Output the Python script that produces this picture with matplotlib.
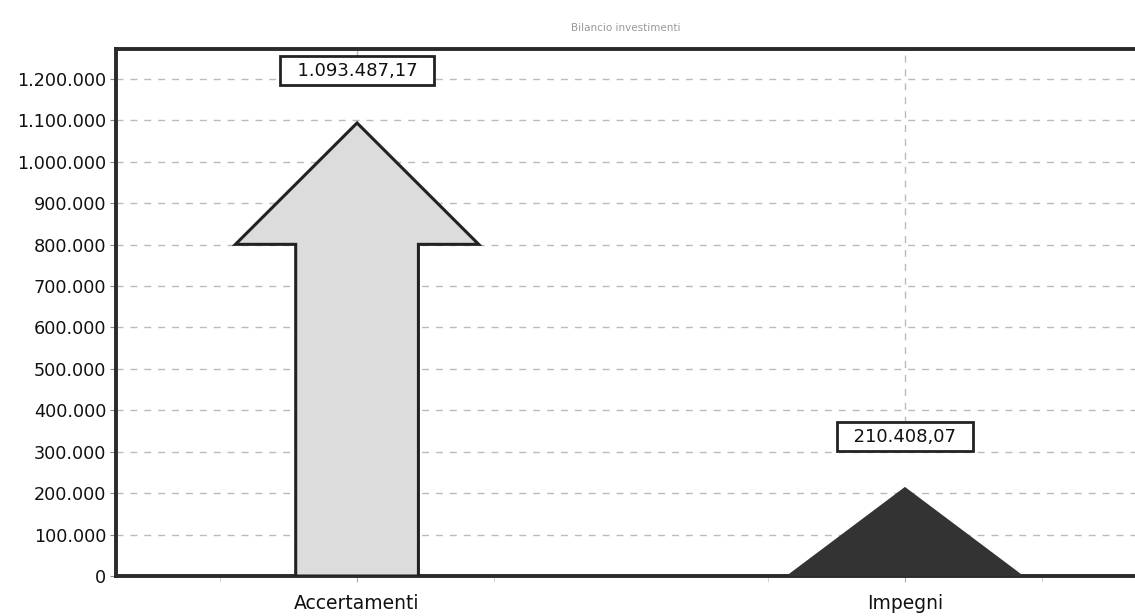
import matplotlib.pyplot as plt
from matplotlib.patches import Polygon
from matplotlib.ticker import FuncFormatter

# data
categories = ['Accertamenti', 'Impegni']
values = [1093487.17, 210408.07]
labels = ['1.093.487,17', '210.408,07']
fills = ['#dcdcdc', '#333333']
edges = ['#222222', '#333333']

y_ticks = list(range(0, 1200001, 100000))

def it_thousands(v, pos):
    return f'{int(v):,}'.replace(',', '.')

fig = plt.figure(figsize=(11.35, 6.16), dpi=100)
ax = fig.add_axes([116 / 1135, 40 / 616, 1030 / 1135, 527 / 616])

y_top = 1272000
ax.set_xlim(-0.44, 1.44)
ax.set_ylim(0, y_top)

# arrow shape settings (in data units)
head_half = 0.222
shaft_half = 0.112
head_len = 293000
label_gap = 126000

for i, (v, fc, ec) in enumerate(zip(values, fills, edges)):
    if v > head_len:
        base = v - head_len
        pts = [(i - shaft_half, 0), (i - shaft_half, base), (i - head_half, base),
               (i, v), (i + head_half, base), (i + shaft_half, base), (i + shaft_half, 0)]
    else:
        pts = [(i - head_half + 0.01, 0), (i, v), (i + head_half - 0.01, 0)]
    ax.add_patch(Polygon(pts, closed=True, facecolor=fc, edgecolor=ec, lw=2.2, zorder=3))

for i, (v, lab) in enumerate(zip(values, labels)):
    # dashed leader from the label up to the top of the plot
    ax.vlines(i, v + label_gap, y_top, colors='#bbbbbb', linestyles=(0, (5, 5)),
              lw=1, zorder=1)
    ax.text(i, v + label_gap, '  ' + lab + '  ', ha='center', va='center',
            fontsize=13, color='#111111', zorder=5,
            bbox=dict(boxstyle='square,pad=0.3', fc='white', ec='#222222', lw=2))

ax.set_yticks(y_ticks)
ax.yaxis.set_major_formatter(FuncFormatter(it_thousands))
ax.set_xticks(range(len(categories)))
ax.set_xticklabels(categories, fontsize=13.5, color='#111111')
ax.set_xticks([-0.25, 0.25, 0.75, 1.25], minor=True)
ax.tick_params(axis='y', labelsize=12.7, labelcolor='#111111', length=4, color='#888888', pad=3)
ax.tick_params(axis='x', which='major', length=4, color='#aaaaaa', pad=9)
ax.tick_params(axis='x', which='minor', length=4, color='#cccccc')

ax.grid(True, axis='y', color='#bbbbbb', linestyle=(0, (5, 5)), linewidth=1)
ax.set_axisbelow(True)

for side in ['left', 'top', 'bottom']:
    ax.spines[side].set_color('#2a2a2a')
    ax.spines[side].set_linewidth(2.8)
ax.spines['right'].set_visible(False)

fig.text(626 / 1135, 1 - 28 / 616, 'Bilancio investimenti', ha='center', va='center',
         fontsize=7.5, color='#999999')

fig.savefig('out.png', dpi=100)
